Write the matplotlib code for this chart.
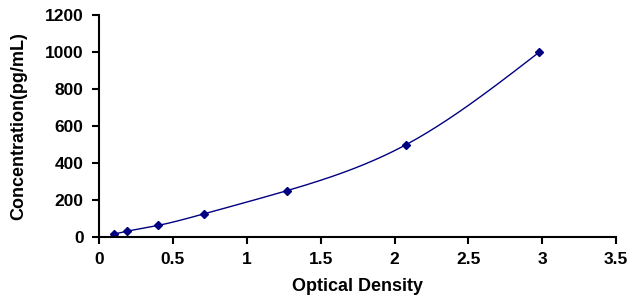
import numpy as np
import matplotlib
matplotlib.use("Agg")
import matplotlib.pyplot as plt

# Standard curve data
od = [0.10, 0.19, 0.40, 0.71, 1.27, 2.08, 2.98]
conc = [15.6, 31.25, 62.5, 125, 250, 500, 1000]

x_ticks = [0, 0.5, 1, 1.5, 2, 2.5, 3, 3.5]
x_tick_labels = ["0", "0.5", "1", "1.5", "2", "2.5", "3", "3.5"]
y_ticks = [0, 200, 400, 600, 800, 1000, 1200]


def natural_spline(x, y, xs):
    # spline cúbica natural simples, só para desenhar a curva suave
    x = np.asarray(x, float)
    y = np.asarray(y, float)
    n = len(x)
    h = np.diff(x)
    A = np.zeros((n, n))
    b = np.zeros(n)
    A[0, 0] = A[-1, -1] = 1
    for i in range(1, n - 1):
        A[i, i - 1] = h[i - 1]
        A[i, i] = 2 * (h[i - 1] + h[i])
        A[i, i + 1] = h[i]
        b[i] = 3 * ((y[i + 1] - y[i]) / h[i] - (y[i] - y[i - 1]) / h[i - 1])
    c = np.linalg.solve(A, b)
    out = np.empty_like(xs)
    for k, xv in enumerate(xs):
        i = min(max(np.searchsorted(x, xv) - 1, 0), n - 2)
        dx = xv - x[i]
        bi = (y[i + 1] - y[i]) / h[i] - h[i] * (2 * c[i] + c[i + 1]) / 3
        di = (c[i + 1] - c[i]) / (3 * h[i])
        out[k] = y[i] + bi * dx + c[i] * dx ** 2 + di * dx ** 3
    return out


plt.rcParams["font.family"] = ["Liberation Sans", "DejaVu Sans"]
plt.rcParams["font.weight"] = "bold"

fig = plt.figure(figsize=(6.34, 3.07), dpi=100)
ax = fig.add_axes([0.156, 0.228, 0.816, 0.723])

xs = np.linspace(od[0], od[-1], 300)
ax.plot(xs, natural_spline(od, conc, xs), color="#000080", linewidth=1)
ax.plot(od, conc, "D", color="#000080", markersize=4.5)

ax.set_xlim(0, 3.5)
ax.set_ylim(0, 1200)
ax.set_xticks(x_ticks)
ax.set_xticklabels(x_tick_labels)
ax.set_yticks(y_ticks)

for s in ["top", "right"]:
    ax.spines[s].set_visible(False)
for s in ["left", "bottom"]:
    ax.spines[s].set_linewidth(1.5)

ax.tick_params(direction="out", length=5, width=1.5, labelsize=12.5, pad=6)
ax.set_xlabel("Optical Density", fontsize=13, fontweight="bold", labelpad=8)
ax.set_ylabel("Concentration(pg/mL)", fontsize=13, fontweight="bold", labelpad=13)

fig.savefig("out.png", dpi=100)
